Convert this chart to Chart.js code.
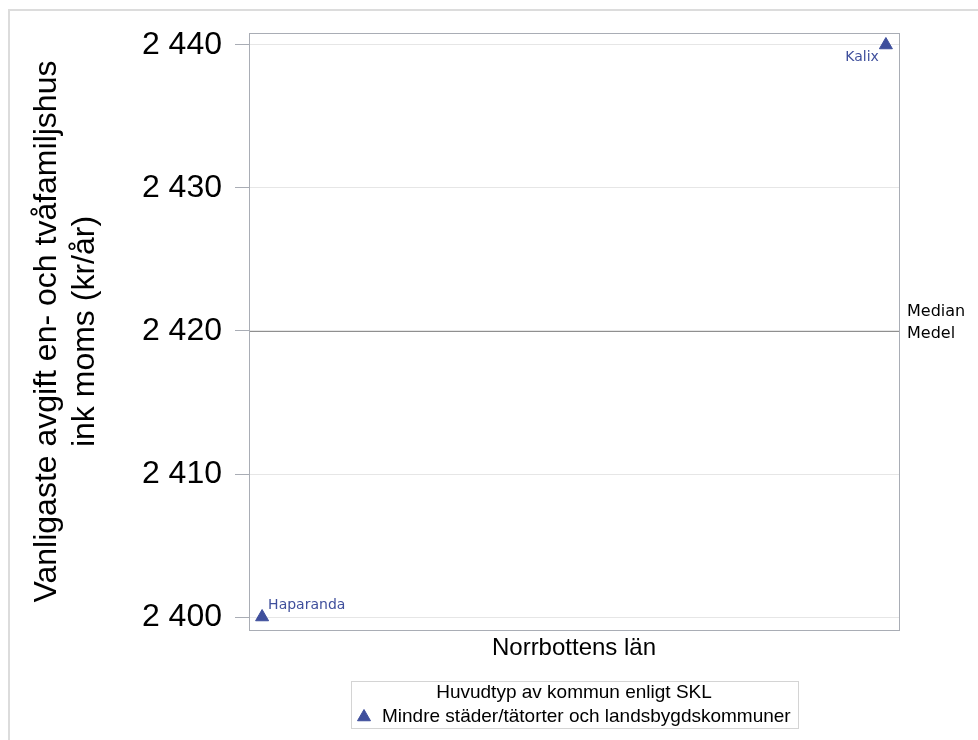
<!DOCTYPE html>
<html>
<head>
<meta charset="utf-8">
<script src="https://cdn.jsdelivr.net/npm/chart.js@4.4.1/dist/chart.umd.min.js"></script>
<style>
  html, body { margin: 0; padding: 0; background: #fff; }
  #wrap { position: relative; width: 978px; height: 740px; overflow: hidden; }
  #frame { position: absolute; left: 8px; top: 9px; right: -10px; bottom: -10px;
           border-left: 2px solid #dcdcdc; border-top: 2px solid #dcdcdc; }
  canvas { position: absolute; left: 0; top: 0; }
</style>
</head>
<body>
<div id="wrap">
  <div id="frame"></div>
  <canvas id="chart" width="978" height="740"></canvas>
</div>
<script>
// Data
const kommuner = ['Haparanda', 'Kalix'];
const kommunPos = [0, 1];            // order of the points inside the län
const avgift = [2400, 2440];
const yTicks = [2400, 2410, 2420, 2430, 2440];
const medianValue = 2420;
const medelValue = 2420;
const refLabels = ['Median', 'Medel'];
const categoryLabel = 'Norrbottens län';
const seriesLabel = 'Mindre städer/tätorter och landsbygdskommuner';
const legendTitle = 'Huvudtyp av kommun enligt SKL';
const yTitle = ['Vanligaste avgift en- och tvåfamiljshus', 'ink moms (kr/år)'];

const markColor = '#3f4f9c';
const sansFont = '"Liberation Sans", Arial, sans-serif';
const labelFont = '"DejaVu Sans", Verdana, sans-serif';

// 2440 -> "2 440"
function fmt(v) {
    return String(v).replace(/\B(?=(\d{3})+(?!\d))/g, ' ');
}

// plot frame + median/medel reference lines
const refLines = {
    id: 'refLines',
    beforeDatasetsDraw(chart) {
        const ctx = chart.ctx;
        const a = chart.chartArea;
        const y = chart.scales.y;
        ctx.save();
        ctx.strokeStyle = '#8f8f8f';
        ctx.lineWidth = 1;
        [medianValue, medelValue].forEach(function(v) {
            const py = Math.round(y.getPixelForValue(v)) + 0.5;
            ctx.beginPath();
            ctx.moveTo(a.left, py);
            ctx.lineTo(a.right, py);
            ctx.stroke();
        });
        ctx.strokeStyle = '#a9adb5';
        ctx.strokeRect(Math.round(a.left) + 0.5, Math.round(a.top) + 0.5,
                       Math.round(a.right - a.left), Math.round(a.bottom - a.top));

        ctx.fillStyle = '#000';
        ctx.font = '16px ' + labelFont;
        ctx.textAlign = 'left';
        ctx.textBaseline = 'middle';
        ctx.fillText(refLabels[0], a.right + 8, y.getPixelForValue(medianValue) - 19);
        ctx.fillText(refLabels[1], a.right + 8, y.getPixelForValue(medelValue) + 3);
        ctx.restore();
    }
};

// point labels (kommun names)
const pointLabels = {
    id: 'pointLabels',
    afterDatasetsDraw(chart) {
        const ctx = chart.ctx;
        const a = chart.chartArea;
        const meta = chart.getDatasetMeta(0);
        ctx.save();
        ctx.fillStyle = markColor;
        ctx.font = '14px ' + labelFont;
        ctx.textBaseline = 'middle';
        meta.data.forEach(function(pt, i) {
            const low = pt.y > (a.top + a.bottom) / 2;
            if (low) {
                ctx.textAlign = 'left';
                ctx.fillText(kommuner[i], pt.x + 6, pt.y - 12);
            } else {
                ctx.textAlign = 'right';
                ctx.fillText(kommuner[i], pt.x - 7, pt.y + 12);
            }
        });
        ctx.restore();
    }
};

// boxed legend under the axis title
const boxLegend = {
    id: 'boxLegend',
    afterDraw(chart) {
        const ctx = chart.ctx;
        const a = chart.chartArea;
        const cx = (a.left + a.right) / 2;
        ctx.save();
        ctx.font = '19px ' + sansFont;
        const titleW = ctx.measureText(legendTitle).width;
        const itemW = ctx.measureText(seriesLabel).width + 25;
        const w = Math.max(titleW, itemW) + 13;
        const left = Math.round(cx - w / 2);
        const top = Math.round(a.bottom) + 51;
        ctx.strokeStyle = '#d4d4d4';
        ctx.lineWidth = 1;
        ctx.strokeRect(left + 0.5, top + 0.5, Math.round(w), 47);

        ctx.fillStyle = '#000';
        ctx.textBaseline = 'middle';
        ctx.textAlign = 'center';
        ctx.fillText(legendTitle, cx, top + 12);
        ctx.textAlign = 'left';
        ctx.fillText(seriesLabel, left + 31, top + 36);

        ctx.fillStyle = markColor;
        ctx.strokeStyle = markColor;
        Chart.helpers.drawPoint(ctx, { pointStyle: 'triangle', radius: 7.5, borderWidth: 1 },
                                left + 13, top + 36);
        ctx.restore();
    }
};

const ctx = document.getElementById('chart').getContext('2d');
new Chart(ctx, {
    type: 'scatter',
    data: {
        datasets: [{
            label: seriesLabel,
            data: kommunPos.map(function(x, i) { return { x: x, y: avgift[i] }; }),
            pointStyle: 'triangle',
            pointRadius: 7.5,
            pointHoverRadius: 7.5,
            backgroundColor: markColor,
            borderColor: markColor,
            borderWidth: 1
        }]
    },
    options: {
        responsive: false,
        animation: false,
        events: [],
        layout: { padding: { left: 12, top: 33, right: 79, bottom: 0 } },
        plugins: {
            legend: { display: false },
            tooltip: { enabled: false }
        },
        scales: {
            x: {
                type: 'linear',
                min: -0.021,
                max: 1.021,
                ticks: { display: false },
                grid: { display: false },
                border: { display: false },
                title: {
                    display: true,
                    text: categoryLabel,
                    color: '#000',
                    font: { family: sansFont, size: 24 },
                    padding: { top: 0, bottom: 77 }
                },
                afterFit: function(scale) { scale.height = 110; }
            },
            y: {
                min: 2399.091,
                max: 2440.839,
                afterBuildTicks: function(scale) {
                    scale.ticks = yTicks.map(function(v) { return { value: v }; });
                },
                ticks: {
                    color: '#000',
                    padding: 13,
                    font: { family: sansFont, size: 32 },
                    callback: function(v) { return fmt(v); }
                },
                grid: {
                    color: '#e6e6e6',
                    tickColor: '#a9adb5',
                    tickLength: 14
                },
                border: { display: false },
                title: {
                    display: true,
                    text: yTitle,
                    color: '#000',
                    font: { family: sansFont, size: 32 },
                    padding: { top: 16, bottom: 0 }
                },
                afterFit: function(scale) { scale.width = 237; }
            }
        }
    },
    plugins: [refLines, pointLabels, boxLegend]
});
</script>
</body>
</html>
